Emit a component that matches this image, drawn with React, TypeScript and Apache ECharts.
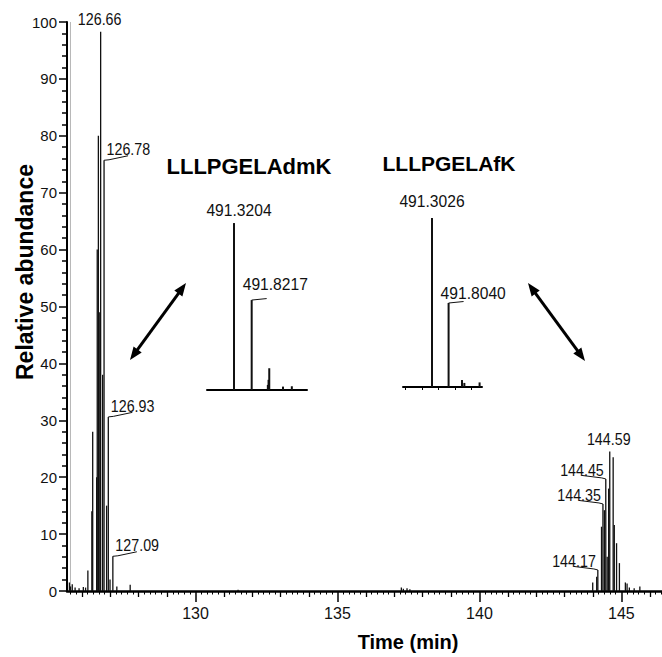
import React, { useEffect, useRef } from 'react';
import * as echarts from 'echarts';

// ---- Chromatogram (time in min, relative abundance %) ----
const noisePeaks: [number, number][] = [
  [125.56, 1.5], [125.6, 0.8], [125.66, 1.2], [125.76, 0.6], [125.9, 0.5], [126.05, 0.7], [126.13, 0.6],
  [127.23, 0.8], [127.7, 1.1], [131.5, 0.2], [137.25, 0.6], [137.32, 0.4], [137.45, 0.5], [137.55, 0.3],
  [145.2, 1.3], [145.28, 0.6], [145.45, 0.5], [145.65, 0.8],
];
const leftPeaks: [number, number][] = [
  [126.21, 3.6], [126.35, 14], [126.38, 28], [126.52, 20], [126.54, 60], [126.58, 80], [126.61, 49],
  [126.66, 98.3], [126.73, 38], [126.78, 75.7], [126.87, 15], [126.93, 30.6], [126.99, 2], [127.09, 6.1],
];
const rightPeaks: [number, number][] = [
  [143.99, 1.5], [144.13, 2.5], [144.17, 3.7], [144.3, 11.3], [144.35, 15.3], [144.4, 14.2], [144.45, 19.7],
  [144.5, 6], [144.55, 18], [144.59, 24.5], [144.71, 23.5], [144.75, 11.6], [144.83, 8.4], [144.93, 4.9], [145.14, 1.5],
];
const leftLabelTimes = [126.66, 126.78, 126.93, 127.09];
const rightLabelTimes = [144.17, 144.35, 144.45, 144.59];
const xTickLabels = [130, 135, 140, 145];
const yTickStep = 10;

// ---- Inset mass spectra (m/z, relative intensity) ----
const insetATitle = 'LLLPGELAdmK';
const insetAPeaks: [number, number][] = [
  [491.3204, 98.2], [491.8217, 52.9], [492.28, 3], [492.3, 6], [492.32, 12.8], [492.71, 2], [492.96, 2.2],
];
const insetALabels = ['491.3204', '491.8217'];
const insetBTitle = 'LLLPGELAfK';
const insetBPeaks: [number, number][] = [
  [491.3026, 99.4], [491.804, 49.4], [492.209, 4.1], [492.28, 2.4], [492.74, 2.7],
];
const insetBLabels = ['491.3026', '491.8040'];

const X_MIN = 125.475;
const X_MAX = 146.43;

const SANS = "'Liberation Sans', Arial, sans-serif";
const INK = '#111';

const MAIN_LABEL_SIDE: Record<string, 'top' | 'right' | 'left'> = {
  '126.66': 'top', '126.78': 'right', '126.93': 'right', '127.09': 'right',
  '144.59': 'top', '144.45': 'left', '144.35': 'left', '144.17': 'left',
};
const INSET_LABEL_LAYOUT: Record<string, { mode: 'top' | 'stub'; dx: number; dy: number }> = {
  '491.3204': { mode: 'top', dx: 5, dy: -5 },
  '491.8217': { mode: 'stub', dx: -9, dy: -7.5 },
  '491.3026': { mode: 'top', dx: 0, dy: -9 },
  '491.8040': { mode: 'stub', dx: -8, dy: -2 },
};

function ticksBetween(lo: number, hi: number, step: number, skip?: (v: number) => boolean) {
  const out: number[] = [];
  for (let k = Math.ceil(lo / step - 1e-9); k * step <= hi + 1e-9; k++) {
    const v = Math.round(k * step * 1000) / 1000;
    if (!skip || !skip(v)) out.push(v);
  }
  return out;
}

function stickItem(width: number) {
  return (params: any, api: any) => {
    const x = api.value(0);
    const y = api.value(1);
    const top = api.coord([x, y]);
    const base = api.coord([x, 0]);
    return {
      type: 'line',
      shape: { x1: top[0], y1: base[1], x2: top[0], y2: top[1] },
      style: { stroke: INK, lineWidth: width },
    };
  };
}

function arrow(x1: number, y1: number, x2: number, y2: number) {
  const dx = x2 - x1, dy = y2 - y1;
  const L = Math.hypot(dx, dy);
  const ux = dx / L, uy = dy / L;
  const nx = -uy, ny = ux;
  const hl = 13, hw = 5;
  const head = (px: number, py: number, sx: number, sy: number) => ({
    type: 'polygon',
    shape: {
      points: [
        [px, py],
        [px - sx * hl + nx * hw, py - sy * hl + ny * hw],
        [px - sx * hl - nx * hw, py - sy * hl - ny * hw],
      ],
    },
    style: { fill: '#000' },
  });
  return {
    type: 'group',
    children: [
      {
        type: 'line',
        shape: { x1: x1 + ux * 9, y1: y1 + uy * 9, x2: x2 - ux * 9, y2: y2 - uy * 9 },
        style: { stroke: '#000', lineWidth: 3 },
      },
      head(x2, y2, ux, uy),
      head(x1, y1, -ux, -uy),
    ],
  };
}

function buildOption() {
  const chromData = [...noisePeaks, ...leftPeaks, ...rightPeaks].sort((a, b) => a[0] - b[0]);
  const allPeaks = [...leftPeaks, ...rightPeaks];
  const labelData = [...leftLabelTimes, ...rightLabelTimes].map((t) => {
    const p = allPeaks.find((q) => Math.abs(q[0] - t) < 1e-6)!;
    return [p[0], p[1]];
  });

  const mainLabelItem = (params: any, api: any) => {
    const t = api.value(0);
    const v = api.value(1);
    const [px, py] = api.coord([t, v]);
    const text = t.toFixed(2);
    const side = MAIN_LABEL_SIDE[text] || 'top';
    const font = { fontSize: 17, fontFamily: SANS, fill: INK };
    const sx = 0.84;
    if (side === 'top') {
      return { type: 'text', x: px - 1, y: py - 4, scaleX: sx, style: { text, align: 'center', verticalAlign: 'bottom', ...font } };
    }
    if (side === 'right') {
      return {
        type: 'group',
        children: [
          { type: 'polyline', shape: { points: [[px, py], [px + 5, py - 0.5], [px + 24, py - 4.5]] }, style: { stroke: INK, lineWidth: 1, fill: 'none' } },
          { type: 'text', x: px + 2.5, y: py - 2.5, scaleX: sx, style: { text, align: 'left', verticalAlign: 'bottom', ...font } },
        ],
      };
    }
    return {
      type: 'group',
      children: [
        { type: 'polyline', shape: { points: [[px, py], [px - 4, py - 1], [px - 24, py - 3.5]] }, style: { stroke: INK, lineWidth: 1, fill: 'none' } },
        { type: 'text', x: px - 2, y: py - 0.5, scaleX: sx, style: { text, align: 'right', verticalAlign: 'bottom', ...font } },
      ],
    };
  };

  const insetLabelItem = (labels: string[]) => (params: any, api: any) => {
    const m = api.value(0);
    const v = api.value(1);
    const [px, py] = api.coord([m, v]);
    const text = labels[params.dataIndex];
    const lay = INSET_LABEL_LAYOUT[text];
    const font = { fontSize: 17, fontFamily: SANS, fill: INK };
    const sx = 0.92;
    if (lay.mode === 'top') {
      return { type: 'text', x: px + lay.dx, y: py + lay.dy, scaleX: sx, style: { text, align: 'center', verticalAlign: 'bottom', ...font } };
    }
    return {
      type: 'group',
      children: [
        { type: 'line', shape: { x1: px, y1: py, x2: px + 15, y2: py - 1.5 }, style: { stroke: INK, lineWidth: 1 } },
        { type: 'text', x: px + lay.dx, y: py + lay.dy, scaleX: sx, style: { text, align: 'left', verticalAlign: 'bottom', ...font } },
      ],
    };
  };

  const insetALabelData = insetALabels.map((s) => insetAPeaks.find((p) => Math.abs(p[0] - parseFloat(s)) < 1e-6)!);
  const insetBLabelData = insetBLabels.map((s) => insetBPeaks.find((p) => Math.abs(p[0] - parseFloat(s)) < 1e-6)!);

  const hiddenAxisBits = { axisLine: { show: false }, axisLabel: { show: false }, splitLine: { show: false } };

  return {
    animation: false,
    backgroundColor: '#fff',
    grid: [
      { left: 67, top: 22, width: 595, height: 569 },
      { left: 207, top: 220, width: 100, height: 170 },
      { left: 403, top: 217, width: 79, height: 170 },
    ],
    xAxis: [
      {
        type: 'value', gridIndex: 0, position: 'bottom', min: X_MIN, max: X_MAX,
        axisLine: { lineStyle: { color: '#000', width: 2.5 } },
        axisTick: { customValues: xTickLabels, length: 11, lineStyle: { color: '#000', width: 1.5 } },
        axisLabel: { customValues: xTickLabels, margin: 14, fontSize: 16, fontFamily: SANS, color: INK },
        splitLine: { show: false },
      },
      {
        type: 'value', gridIndex: 0, position: 'bottom', offset: 0, min: X_MIN, max: X_MAX,
        axisTick: { customValues: ticksBetween(X_MIN, X_MAX, 1, (v) => v % 5 === 0), length: 6, lineStyle: { color: '#000', width: 1.3 } },
        ...hiddenAxisBits,
      },
      {
        type: 'value', gridIndex: 0, position: 'bottom', offset: 0, min: X_MIN, max: X_MAX,
        axisTick: { customValues: ticksBetween(X_MIN, X_MAX, 0.2, (v) => Math.abs(v - Math.round(v)) < 1e-6), length: 3.5, lineStyle: { color: '#000', width: 1 } },
        ...hiddenAxisBits,
      },
      {
        type: 'value', gridIndex: 1, position: 'bottom', min: 490.555, max: 493.39,
        axisLine: { lineStyle: { color: '#000', width: 2 } },
        axisTick: { show: false }, axisLabel: { show: false }, splitLine: { show: false },
      },
      {
        type: 'value', gridIndex: 2, position: 'bottom', min: 490.427, max: 492.813,
        axisLine: { lineStyle: { color: '#000', width: 2 } },
        axisTick: { customValues: ticksBetween(490.427, 492.813, 0.5), length: 3, lineStyle: { color: '#000', width: 1 } },
        axisLabel: { show: false }, splitLine: { show: false },
      },
    ],
    yAxis: [
      {
        type: 'value', gridIndex: 0, min: 0, max: 100, interval: yTickStep,
        axisLine: { show: true, lineStyle: { color: '#000', width: 2 } },
        axisTick: { show: true, length: 8, lineStyle: { color: '#000', width: 1.5 } },
        minorTick: { show: true, splitNumber: 5, length: 5, lineStyle: { color: '#000', width: 1.5 } },
        axisLabel: { margin: 10, fontSize: 15, fontFamily: SANS, color: INK },
        splitLine: { show: false },
        minorSplitLine: { show: false },
      },
      { type: 'value', gridIndex: 1, min: 0, max: 100, show: false },
      { type: 'value', gridIndex: 2, min: 0, max: 100, show: false },
    ],
    series: [
      { type: 'custom', xAxisIndex: 0, yAxisIndex: 0, data: chromData, renderItem: stickItem(1.3), clip: false, silent: true },
      { type: 'custom', xAxisIndex: 0, yAxisIndex: 0, data: labelData, renderItem: mainLabelItem, clip: false, silent: true, z: 5 },
      { type: 'custom', xAxisIndex: 3, yAxisIndex: 1, data: insetAPeaks, renderItem: stickItem(2), clip: false, silent: true },
      { type: 'custom', xAxisIndex: 3, yAxisIndex: 1, data: insetALabelData, renderItem: insetLabelItem(insetALabels), clip: false, silent: true },
      { type: 'custom', xAxisIndex: 4, yAxisIndex: 2, data: insetBPeaks, renderItem: stickItem(2), clip: false, silent: true },
      { type: 'custom', xAxisIndex: 4, yAxisIndex: 2, data: insetBLabelData, renderItem: insetLabelItem(insetBLabels), clip: false, silent: true },
    ],
    graphic: [
      { type: 'line', shape: { x1: 70.5, y1: 22, x2: 70.5, y2: 590 }, style: { stroke: '#b8b8b8', lineWidth: 1 }, silent: true },
      {
        type: 'text', x: 25, y: 272, rotation: Math.PI / 2,
        style: { text: 'Relative abundance', fontSize: 23, fontWeight: 'bold', fontFamily: SANS, fill: '#000', align: 'center', verticalAlign: 'middle' },
      },
      {
        type: 'text', x: 408, y: 642,
        style: { text: 'Time (min)', fontSize: 20, fontWeight: 'bold', fontFamily: SANS, fill: '#000', align: 'center', verticalAlign: 'middle' },
      },
      {
        type: 'text', x: 249, y: 166,
        style: { text: insetATitle, fontSize: 22, fontWeight: 'bold', fontFamily: SANS, fill: '#000', align: 'center', verticalAlign: 'middle' },
      },
      {
        type: 'text', x: 449, y: 163,
        style: { text: insetBTitle, fontSize: 21, fontWeight: 'bold', fontFamily: SANS, fill: '#000', align: 'center', verticalAlign: 'middle' },
      },
      arrow(130, 360, 186, 283),
      arrow(528, 283, 585, 361),
    ],
  };
}

export default function App() {
  const ref = useRef<HTMLDivElement>(null);
  useEffect(() => {
    document.body.style.margin = '0';
    const chart = echarts.init(ref.current!, null, { renderer: 'svg' });
    chart.setOption(buildOption() as any);
    return () => chart.dispose();
  }, []);
  return <div ref={ref} style={{ position: 'fixed', left: 0, top: 0, width: 662, height: 657, background: '#fff' }} />;
}
